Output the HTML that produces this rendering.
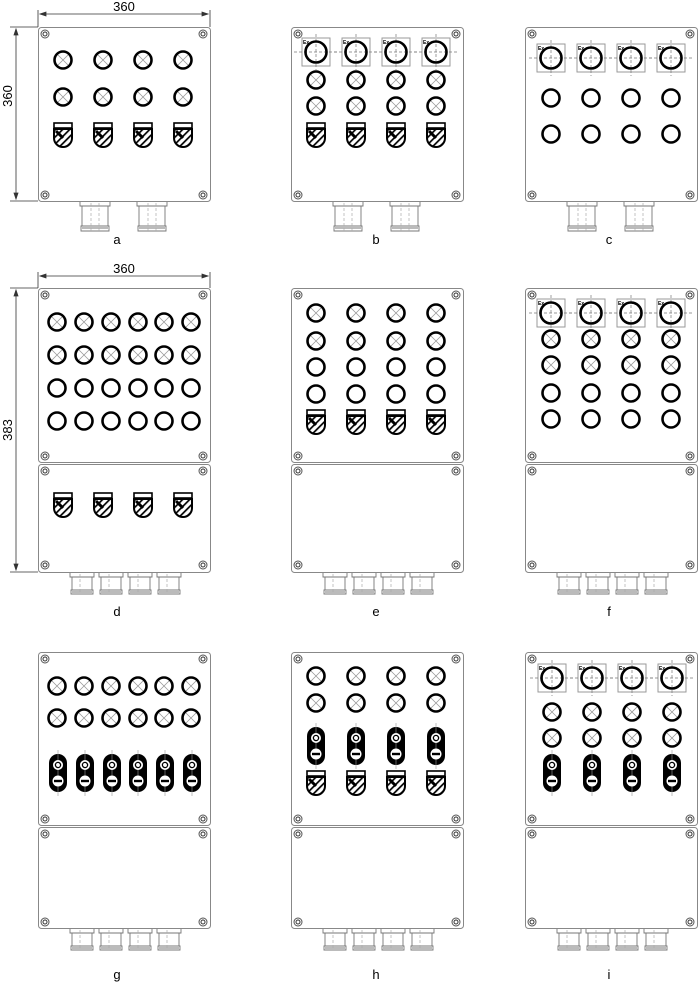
<!DOCTYPE html>
<html><head><meta charset="utf-8"><style>
html,body{margin:0;padding:0;background:#fff;width:700px;height:984px;overflow:hidden}
svg{display:block}
text{font-family:"Liberation Sans",sans-serif}
</style></head><body>
<svg width="700" height="984" viewBox="0 0 700 984" xmlns="http://www.w3.org/2000/svg">
<defs>
<pattern id="hatch" width="5" height="5" patternUnits="userSpaceOnUse" patternTransform="rotate(45)">
<rect width="5" height="5" fill="#fff"/><rect width="1.7" height="5" fill="#000"/></pattern>
<g id="lx"><circle r="8.5" fill="#fff" stroke="#000" stroke-width="2.6"/><path d="M-5,-5L5,5M5,-5L-5,5" stroke="#999" stroke-width="0.8"/></g>
<g id="lo"><circle r="8.5" fill="#fff" stroke="#000" stroke-width="2.6"/></g>
<g id="sh"><rect x="-9" y="-12" width="18" height="5" fill="#fff" stroke="#000" stroke-width="1.6"/>
<path d="M-9,-6H9V3A9,9 0 0 1 -9,3Z" fill="url(#hatch)" stroke="#000" stroke-width="2"/>
<path d="M-7,-4L0,3" stroke="#000" stroke-width="3"/></g>
<g id="ex"><rect x="-14" y="-14" width="28" height="28" fill="#fff" stroke="#999" stroke-width="1"/>
<path d="M-22,0H22M0,-18V18" stroke="#777" stroke-width="0.7" stroke-dasharray="3,2"/>
<circle r="10.5" fill="none" stroke="#000" stroke-width="2.6"/></g>
<g id="pl"><rect x="-9" y="-19" width="18" height="38" rx="9" fill="#000"/>
<path d="M0,-23V23" stroke="#999" stroke-width="0.6"/>
<circle cy="-8" r="5" fill="#fff"/><circle cy="-8" r="2.6" fill="none" stroke="#000" stroke-width="1.3"/>
<circle cy="8" r="5.5" fill="#fff"/><rect x="-4" y="6.8" width="8" height="2.4" fill="#000"/></g>
<g id="sc"><circle r="4" fill="#fff" stroke="#555" stroke-width="1"/><circle r="2" fill="none" stroke="#333" stroke-width="1"/></g>
<g id="gl"><path d="M-15,0V4H15V0M-13,4V24H13V4M-14,24H14V29H-14Z M-13,26H13" fill="#fff" stroke="#777" stroke-width="0.9"/><path d="M-4,1V29M4,1V29" stroke="#aaa" stroke-width="0.7" stroke-dasharray="3,2"/></g>
<g id="gs"><path d="M-12,0V4H12V0M-10,4V17H10V4M-11,17H11V21H-11Z M-10,19H10" fill="#fff" stroke="#777" stroke-width="0.9"/><path d="M-2,1V21" stroke="#aaa" stroke-width="0.7" stroke-dasharray="3,2"/></g>
</defs>

<g fill="none" stroke="#888" stroke-width="1">
<rect x="38.5" y="27.5" width="172" height="174" rx="3"/>
<rect x="291.5" y="27.5" width="172" height="174" rx="3"/>
<rect x="525.5" y="27.5" width="172" height="174" rx="3"/>
<rect x="38.5" y="288.5" width="172" height="174" rx="3"/><rect x="38.5" y="464.5" width="172" height="108" rx="3"/>
<rect x="291.5" y="288.5" width="172" height="174" rx="3"/><rect x="291.5" y="464.5" width="172" height="108" rx="3"/>
<rect x="525.5" y="288.5" width="172" height="174" rx="3"/><rect x="525.5" y="464.5" width="172" height="108" rx="3"/>
<rect x="38.5" y="652.5" width="172" height="173" rx="3"/><rect x="38.5" y="827.5" width="172" height="101" rx="3"/>
<rect x="291.5" y="652.5" width="172" height="173" rx="3"/><rect x="291.5" y="827.5" width="172" height="101" rx="3"/>
<rect x="525.5" y="652.5" width="172" height="173" rx="3"/><rect x="525.5" y="827.5" width="172" height="101" rx="3"/>
</g>

<g stroke="#333" stroke-width="0.8" fill="#333">
<path d="M38,10V27M210,10V27M40,14H208"/><path d="M40,14l6,-2v4zM208,14l-6,-2v4z"/>
<path d="M10,27H38M10,201H38M16,29V199"/><path d="M16,29l-2,6h4zM16,199l-2,-6h4z"/>
<path d="M38,272V288M210,272V288M40,276H208"/><path d="M40,276l6,-2v4zM208,276l-6,-2v4z"/>
<path d="M10,288H38M10,572H38M16,290V570"/><path d="M16,290l-2,6h4zM16,570l-2,-6h4z"/>
</g>
<text x="124" y="11" font-size="13" text-anchor="middle">360</text>
<text x="12" y="96" font-size="13" text-anchor="middle" transform="rotate(-90 12 96)">360</text>
<text x="124" y="273" font-size="13" text-anchor="middle">360</text>
<text x="12" y="430" font-size="13" text-anchor="middle" transform="rotate(-90 12 430)">383</text>

<g>
<use href="#sc" x="45" y="34"/><use href="#sc" x="203" y="34"/><use href="#sc" x="45" y="195"/><use href="#sc" x="203" y="195"/>
<use href="#sc" x="298" y="34"/><use href="#sc" x="456" y="34"/><use href="#sc" x="298" y="195"/><use href="#sc" x="456" y="195"/>
<use href="#sc" x="532" y="34"/><use href="#sc" x="690" y="34"/><use href="#sc" x="532" y="195"/><use href="#sc" x="690" y="195"/>
<use href="#sc" x="45" y="295"/><use href="#sc" x="203" y="295"/><use href="#sc" x="45" y="456"/><use href="#sc" x="203" y="456"/><use href="#sc" x="45" y="471"/><use href="#sc" x="203" y="471"/><use href="#sc" x="45" y="565"/><use href="#sc" x="203" y="565"/>
<use href="#sc" x="298" y="295"/><use href="#sc" x="456" y="295"/><use href="#sc" x="298" y="456"/><use href="#sc" x="456" y="456"/><use href="#sc" x="298" y="471"/><use href="#sc" x="456" y="471"/><use href="#sc" x="298" y="565"/><use href="#sc" x="456" y="565"/>
<use href="#sc" x="532" y="295"/><use href="#sc" x="690" y="295"/><use href="#sc" x="532" y="456"/><use href="#sc" x="690" y="456"/><use href="#sc" x="532" y="471"/><use href="#sc" x="690" y="471"/><use href="#sc" x="532" y="565"/><use href="#sc" x="690" y="565"/>
<use href="#sc" x="45" y="659"/><use href="#sc" x="203" y="659"/><use href="#sc" x="45" y="819"/><use href="#sc" x="203" y="819"/><use href="#sc" x="45" y="834"/><use href="#sc" x="203" y="834"/><use href="#sc" x="45" y="922"/><use href="#sc" x="203" y="922"/>
<use href="#sc" x="298" y="659"/><use href="#sc" x="456" y="659"/><use href="#sc" x="298" y="819"/><use href="#sc" x="456" y="819"/><use href="#sc" x="298" y="834"/><use href="#sc" x="456" y="834"/><use href="#sc" x="298" y="922"/><use href="#sc" x="456" y="922"/>
<use href="#sc" x="532" y="659"/><use href="#sc" x="690" y="659"/><use href="#sc" x="532" y="819"/><use href="#sc" x="690" y="819"/><use href="#sc" x="532" y="834"/><use href="#sc" x="690" y="834"/><use href="#sc" x="532" y="922"/><use href="#sc" x="690" y="922"/>
</g>

<use href="#gl" x="95" y="202"/><use href="#gl" x="152" y="202"/>
<use href="#gl" x="348" y="202"/><use href="#gl" x="405" y="202"/>
<use href="#gl" x="582" y="202"/><use href="#gl" x="639" y="202"/>
<g>
<use href="#gs" x="82" y="573"/><use href="#gs" x="111" y="573"/><use href="#gs" x="140" y="573"/><use href="#gs" x="169" y="573"/>
<use href="#gs" x="335" y="573"/><use href="#gs" x="364" y="573"/><use href="#gs" x="393" y="573"/><use href="#gs" x="422" y="573"/>
<use href="#gs" x="569" y="573"/><use href="#gs" x="598" y="573"/><use href="#gs" x="627" y="573"/><use href="#gs" x="656" y="573"/>
<use href="#gs" x="82" y="929"/><use href="#gs" x="111" y="929"/><use href="#gs" x="140" y="929"/><use href="#gs" x="169" y="929"/>
<use href="#gs" x="335" y="929"/><use href="#gs" x="364" y="929"/><use href="#gs" x="393" y="929"/><use href="#gs" x="422" y="929"/>
<use href="#gs" x="569" y="929"/><use href="#gs" x="598" y="929"/><use href="#gs" x="627" y="929"/><use href="#gs" x="656" y="929"/>
</g>

<use href="#lx" x="63" y="60"/><use href="#lx" x="103" y="60"/><use href="#lx" x="143" y="60"/><use href="#lx" x="183" y="60"/>
<use href="#lx" x="63" y="97"/><use href="#lx" x="103" y="97"/><use href="#lx" x="143" y="97"/><use href="#lx" x="183" y="97"/>
<use href="#sh" x="63" y="135"/><use href="#sh" x="103" y="135"/><use href="#sh" x="143" y="135"/><use href="#sh" x="183" y="135"/>
<use href="#ex" x="316" y="52"/><use href="#ex" x="356" y="52"/><use href="#ex" x="396" y="52"/><use href="#ex" x="436" y="52"/>
<use href="#lx" x="316" y="80"/><use href="#lx" x="356" y="80"/><use href="#lx" x="396" y="80"/><use href="#lx" x="436" y="80"/>
<use href="#lx" x="316" y="106"/><use href="#lx" x="356" y="106"/><use href="#lx" x="396" y="106"/><use href="#lx" x="436" y="106"/>
<use href="#sh" x="316" y="135"/><use href="#sh" x="356" y="135"/><use href="#sh" x="396" y="135"/><use href="#sh" x="436" y="135"/>
<use href="#ex" x="551" y="58"/><use href="#ex" x="591" y="58"/><use href="#ex" x="631" y="58"/><use href="#ex" x="671" y="58"/>
<use href="#lo" x="551" y="98"/><use href="#lo" x="591" y="98"/><use href="#lo" x="631" y="98"/><use href="#lo" x="671" y="98"/>
<use href="#lo" x="551" y="134"/><use href="#lo" x="591" y="134"/><use href="#lo" x="631" y="134"/><use href="#lo" x="671" y="134"/>
<g>
<use href="#lx" x="57" y="322"/><use href="#lx" x="84" y="322"/><use href="#lx" x="111" y="322"/><use href="#lx" x="138" y="322"/><use href="#lx" x="164" y="322"/><use href="#lx" x="191" y="322"/>
<use href="#lx" x="57" y="355"/><use href="#lx" x="84" y="355"/><use href="#lx" x="111" y="355"/><use href="#lx" x="138" y="355"/><use href="#lx" x="164" y="355"/><use href="#lx" x="191" y="355"/>
<use href="#lo" x="57" y="388"/><use href="#lo" x="84" y="388"/><use href="#lo" x="111" y="388"/><use href="#lo" x="138" y="388"/><use href="#lo" x="164" y="388"/><use href="#lo" x="191" y="388"/>
<use href="#lo" x="57" y="421"/><use href="#lo" x="84" y="421"/><use href="#lo" x="111" y="421"/><use href="#lo" x="138" y="421"/><use href="#lo" x="164" y="421"/><use href="#lo" x="191" y="421"/>
<use href="#sh" x="63" y="505"/><use href="#sh" x="103" y="505"/><use href="#sh" x="143" y="505"/><use href="#sh" x="183" y="505"/>
</g>
<use href="#lx" x="316" y="313"/><use href="#lx" x="356" y="313"/><use href="#lx" x="396" y="313"/><use href="#lx" x="436" y="313"/>
<use href="#lx" x="316" y="341"/><use href="#lx" x="356" y="341"/><use href="#lx" x="396" y="341"/><use href="#lx" x="436" y="341"/>
<use href="#lo" x="316" y="367"/><use href="#lo" x="356" y="367"/><use href="#lo" x="396" y="367"/><use href="#lo" x="436" y="367"/>
<use href="#lo" x="316" y="394"/><use href="#lo" x="356" y="394"/><use href="#lo" x="396" y="394"/><use href="#lo" x="436" y="394"/>
<use href="#sh" x="316" y="422"/><use href="#sh" x="356" y="422"/><use href="#sh" x="396" y="422"/><use href="#sh" x="436" y="422"/>
<use href="#ex" x="551" y="313"/><use href="#ex" x="591" y="313"/><use href="#ex" x="631" y="313"/><use href="#ex" x="671" y="313"/>
<use href="#lx" x="551" y="339"/><use href="#lx" x="591" y="339"/><use href="#lx" x="631" y="339"/><use href="#lx" x="671" y="339"/>
<use href="#lx" x="551" y="365"/><use href="#lx" x="591" y="365"/><use href="#lx" x="631" y="365"/><use href="#lx" x="671" y="365"/>
<use href="#lo" x="551" y="393"/><use href="#lo" x="591" y="393"/><use href="#lo" x="631" y="393"/><use href="#lo" x="671" y="393"/>
<use href="#lo" x="551" y="419"/><use href="#lo" x="591" y="419"/><use href="#lo" x="631" y="419"/><use href="#lo" x="671" y="419"/>
<g>
<use href="#lx" x="57" y="686"/><use href="#lx" x="84" y="686"/><use href="#lx" x="111" y="686"/><use href="#lx" x="138" y="686"/><use href="#lx" x="164" y="686"/><use href="#lx" x="191" y="686"/>
<use href="#lx" x="57" y="718"/><use href="#lx" x="84" y="718"/><use href="#lx" x="111" y="718"/><use href="#lx" x="138" y="718"/><use href="#lx" x="164" y="718"/><use href="#lx" x="191" y="718"/>
<use href="#pl" x="58" y="773"/><use href="#pl" x="85" y="773"/><use href="#pl" x="112" y="773"/><use href="#pl" x="138" y="773"/><use href="#pl" x="165" y="773"/><use href="#pl" x="192" y="773"/>
</g>
<use href="#lx" x="316" y="676"/><use href="#lx" x="356" y="676"/><use href="#lx" x="396" y="676"/><use href="#lx" x="436" y="676"/>
<use href="#lx" x="316" y="703"/><use href="#lx" x="356" y="703"/><use href="#lx" x="396" y="703"/><use href="#lx" x="436" y="703"/>
<use href="#pl" x="316" y="746"/><use href="#pl" x="356" y="746"/><use href="#pl" x="396" y="746"/><use href="#pl" x="436" y="746"/>
<use href="#sh" x="316" y="783"/><use href="#sh" x="356" y="783"/><use href="#sh" x="396" y="783"/><use href="#sh" x="436" y="783"/>
<use href="#ex" x="552" y="678"/><use href="#ex" x="592" y="678"/><use href="#ex" x="632" y="678"/><use href="#ex" x="672" y="678"/>
<use href="#lx" x="552" y="712"/><use href="#lx" x="592" y="712"/><use href="#lx" x="632" y="712"/><use href="#lx" x="672" y="712"/>
<use href="#lx" x="552" y="738"/><use href="#lx" x="592" y="738"/><use href="#lx" x="632" y="738"/><use href="#lx" x="672" y="738"/>
<use href="#pl" x="552" y="773"/><use href="#pl" x="592" y="773"/><use href="#pl" x="632" y="773"/><use href="#pl" x="672" y="773"/>

<g font-size="5" font-weight="bold" fill="#000">
<text x="303" y="44">Ex</text><text x="343" y="44">Ex</text><text x="383" y="44">Ex</text><text x="423" y="44">Ex</text>
<text x="538" y="50">Ex</text><text x="578" y="50">Ex</text><text x="618" y="50">Ex</text><text x="658" y="50">Ex</text>
<text x="538" y="305">Ex</text><text x="578" y="305">Ex</text><text x="618" y="305">Ex</text><text x="658" y="305">Ex</text>
<text x="539" y="670">Ex</text><text x="579" y="670">Ex</text><text x="619" y="670">Ex</text><text x="659" y="670">Ex</text>
</g>

<g font-size="13" text-anchor="middle" fill="#000">
<text x="117" y="244">a</text><text x="376" y="244">b</text><text x="609" y="244">c</text>
<text x="117" y="616">d</text><text x="376" y="616">e</text><text x="609" y="616">f</text>
<text x="117" y="979">g</text><text x="376" y="979">h</text><text x="609" y="979">i</text>
</g>
</svg>
</body></html>
